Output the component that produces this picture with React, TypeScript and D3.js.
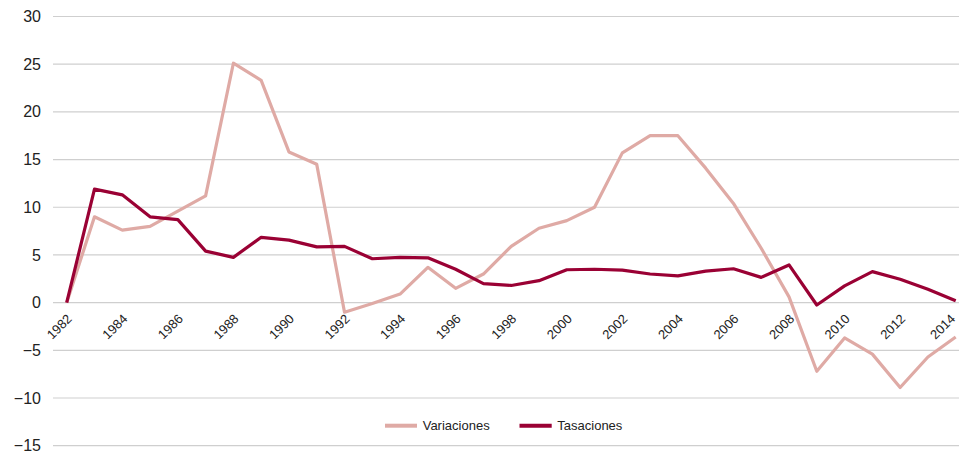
import React from "react";
import * as d3 from "d3";

const years: number[] = d3.range(1982, 2015);
const variaciones: number[] = [
  0, 9.0, 7.6, 8.0, 9.6, 11.2, 25.1, 23.3, 15.8, 14.5, -1.0, -0.1, 0.9, 3.7, 1.5, 3.0,
  5.9, 7.8, 8.6, 10.0, 15.7, 17.5, 17.5, 14.1, 10.4, 5.7, 0.6, -7.2, -3.7, -5.4, -8.9, -5.7, -3.6,
];
const tasaciones: number[] = [
  0, 11.9, 11.3, 9.0, 8.7, 5.4, 4.75, 6.85, 6.55, 5.85, 5.9, 4.6, 4.75, 4.7, 3.5, 2.0,
  1.8, 2.3, 3.45, 3.5, 3.4, 3.0, 2.8, 3.3, 3.55, 2.65, 3.95, -0.25, 1.75, 3.25, 2.45, 1.4, 0.2,
];
const yTicks: number[] = [-15, -10, -5, 0, 5, 10, 15, 20, 25, 30];
const xTickYears: number[] = years.filter((y) => (y - 1982) % 2 === 0);
const seriesNames = ["Variaciones", "Tasaciones"];
const seriesColors = ["#dfaaa5", "#9a0134"];

const W = 959;
const H = 455;
const FONT = "'Liberation Sans', Arial, Helvetica, sans-serif";

export default function App() {
  const x = d3.scaleLinear().domain([1982, 2014]).range([66.7, 955.7]);
  const y = d3.scaleLinear().domain([-15, 30]).range([445.7, 16.5]);
  const line = d3
    .line<number>()
    .x((_, i) => x(years[i]))
    .y((d) => y(d));
  const fmt = (v: number) => (v < 0 ? "\u2212" + Math.abs(v) : String(v));
  const all = [variaciones, tasaciones];

  return (
    <svg
      width={W}
      height={H}
      style={{ position: "absolute", left: 0, top: 0, background: "#fff" }}
      fontFamily={FONT}
    >
      {yTicks.map((t) => (
        <g key={t}>
          <line x1={53} x2={959} y1={y(t)} y2={y(t)} stroke="#cfcfcf" strokeWidth={1.2} />
          <text
            x={41}
            y={y(t)}
            dy="0.35em"
            textAnchor="end"
            fontSize={16}
            fill="#222"
          >
            {fmt(t)}
          </text>
        </g>
      ))}
      {xTickYears.map((yr) => {
        const ax = Math.min(x(yr) + 6, 956);
        const ay = y(0) + 17;
        return (
          <text
            key={yr}
            transform={`translate(${ax},${ay}) rotate(-45)`}
            textAnchor="end"
            fontSize={13}
            fill="#222"
          >
            {yr}
          </text>
        );
      })}
      {all.map((s, i) => (
        <path
          key={i}
          d={line(s) || ""}
          fill="none"
          stroke={seriesColors[i]}
          strokeWidth={3.2}
          strokeLinejoin="round"
        />
      ))}
      <g fontSize={13} fill="#222">
        <line x1={385} x2={417} y1={425.7} y2={425.7} stroke={seriesColors[0]} strokeWidth={4} />
        <text x={422.7} y={425.7} dy="0.35em">{seriesNames[0]}</text>
        <line x1={519.5} x2={551.7} y1={425.7} y2={425.7} stroke={seriesColors[1]} strokeWidth={4} />
        <text x={557.3} y={425.7} dy="0.35em">{seriesNames[1]}</text>
      </g>
    </svg>
  );
}
